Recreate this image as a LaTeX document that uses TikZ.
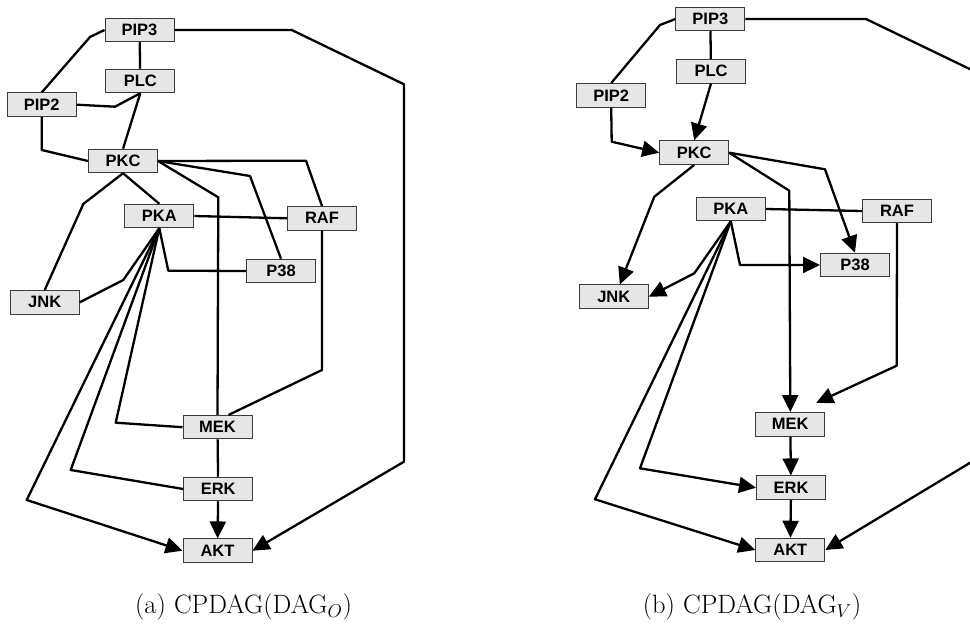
\RequirePackage{fix-cm}
\documentclass[tikz,border=0pt]{standalone}
\usepackage{fontspec}
\setsansfont{Liberation Sans}
\usetikzlibrary{arrows.meta}
\definecolor{boxgray}{RGB}{230,230,230}
\definecolor{rimgray}{RGB}{60,60,60}

\begin{document}
\begin{tikzpicture}[x=1pt, y=-1pt,
  gene/.style={draw=rimgray, line width=1pt, fill=boxgray,
    minimum width=69pt, minimum height=23.5pt, inner sep=0pt,
    font=\fontsize{16.5}{16.5}\selectfont\sffamily\bfseries},
  link/.style={line width=2.3pt, line join=round},
  arr/.style={link, -{Triangle[length=17pt,width=16pt]}},
  subcap/.style={font=\fontsize{26.5}{30}\selectfont}]
\clip (0,0) rectangle (970,628);

% observed-data graph
\begin{scope}[name prefix=o-]
\node[gene] (pip3) at (139.5,30) {PIP3};
\node[gene] (plc) at (140.3,81) {PLC};
\node[gene] (pip2) at (41.7,104.7) {PIP2};
\node[gene] (pkc) at (123,161) {PKC};
\node[gene] (pka) at (159.3,216) {PKA};
\node[gene] (raf) at (322,218.3) {RAF};
\node[gene] (p38) at (281,271) {P38};
\node[gene] (jnk) at (44.7,302.3) {JNK};
\node[gene] (mek) at (217.5,427.2) {MEK};
\node[gene] (erk) at (218.2,489) {ERK};
\node[gene] (akt) at (217.5,550.7) {AKT};

\draw[link] (pip3.west) -- (90,37) -- (pip2.north);
\draw[link] (pip3) -- (plc);
\draw[arr] (pip3.east) -- (291.7,30) -- (404,84.3) -- (404,461.7) -- (akt.east);
\draw[link] (pip2.east) -- (115,106.7) -- (plc.south);
\draw[link] (plc.south) -- (pkc.north);
\draw[link] (pip2.south) -- (41.7,150) -- (pkc.west);
\draw[link] (pkc.south) -- (83.3,204) -- (jnk.north);
\draw[link] (pkc.south) -- (pka.north);
\draw[link] (pkc.east) -- (306,160.7) -- (raf.north);
\draw[link] (pkc.east) -- (250,176) -- (p38.north);
\draw[link] (pkc.east) -- (218.3,197.3) -- (mek.north);
\draw[link] (pka.east) -- (raf.west);
\draw[link] (pka.south) -- (168.3,270.7) -- (p38.west);
\draw[link] (pka.south) -- (123.3,280) -- (jnk.east);
\draw[link] (pka.south) -- (115.7,422.7) -- (mek.west);
\draw[link] (pka.south) -- (70.7,470) -- (erk.west);
\draw[arr] (pka.south) -- (26.7,500) -- (akt.west);
\draw[link] (raf.south) -- (322,370) -- ([xshift=11pt]mek.north);
\draw[link] (mek) -- (erk);
\draw[arr] (erk) -- (akt);

\node[subcap] (caption) at (243.5,607) {(a) CPDAG(DAG$_O$)};
\end{scope}

% interventional-data graph
\begin{scope}[name prefix=v-]
\node[gene] (pip3) at (710.3,19) {PIP3};
\node[gene] (plc) at (711,71.3) {PLC};
\node[gene] (pip2) at (611.2,95.3) {PIP2};
\node[gene] (pkc) at (694.2,152.7) {PKC};
\node[gene] (pka) at (730.8,209) {PKA};
\node[gene] (raf) at (897,211) {RAF};
\node[gene] (p38) at (855,265) {P38};
\node[gene] (jnk) at (613.8,296.7) {JNK};
\node[gene] (mek) at (790.3,424.3) {MEK};
\node[gene] (erk) at (791,487.7) {ERK};
\node[gene] (akt) at (790.3,550) {AKT};

\draw[link] (pip3.west) -- (660,25) -- (pip2.north);
\draw[link] (pip3) -- (plc);
\draw[arr] (pip3.east) -- (866,19) -- (978,73) -- (978,458) -- (akt.east);
\draw[arr] (plc.south) -- (pkc.north);
\draw[arr] (pip2.south) -- (611.7,141.7) -- (pkc.west);
\draw[arr] (pkc.south) -- (654.3,196.7) -- ([xshift=6pt]jnk.north);
\draw[arr] (pkc.east) -- (825,169.3) -- (p38.north);
\draw[arr] (pkc.east) -- (789.3,190.7) -- (mek.north);
\draw[link] (pka.east) -- (raf.west);
\draw[arr] (pka.south) -- (740,265) -- (p38.west);
\draw[arr] (pka.south) -- (694.3,273.3) -- (jnk.east);
\draw[arr] (pka.south) -- (640,468.3) -- (erk.west);
\draw[arr] (pka.south) -- (595,499.3) -- (akt.west);
\draw[arr, shorten >=22pt] (raf.south) -- (896.7,365.7) -- ([xshift=6pt]mek.north);
\draw[arr] (mek) -- (erk);
\draw[arr] (erk) -- (akt);

\node[subcap] (caption) at (752,607) {(b) CPDAG(DAG$_V$)};
\end{scope}
\end{tikzpicture}
\end{document}
